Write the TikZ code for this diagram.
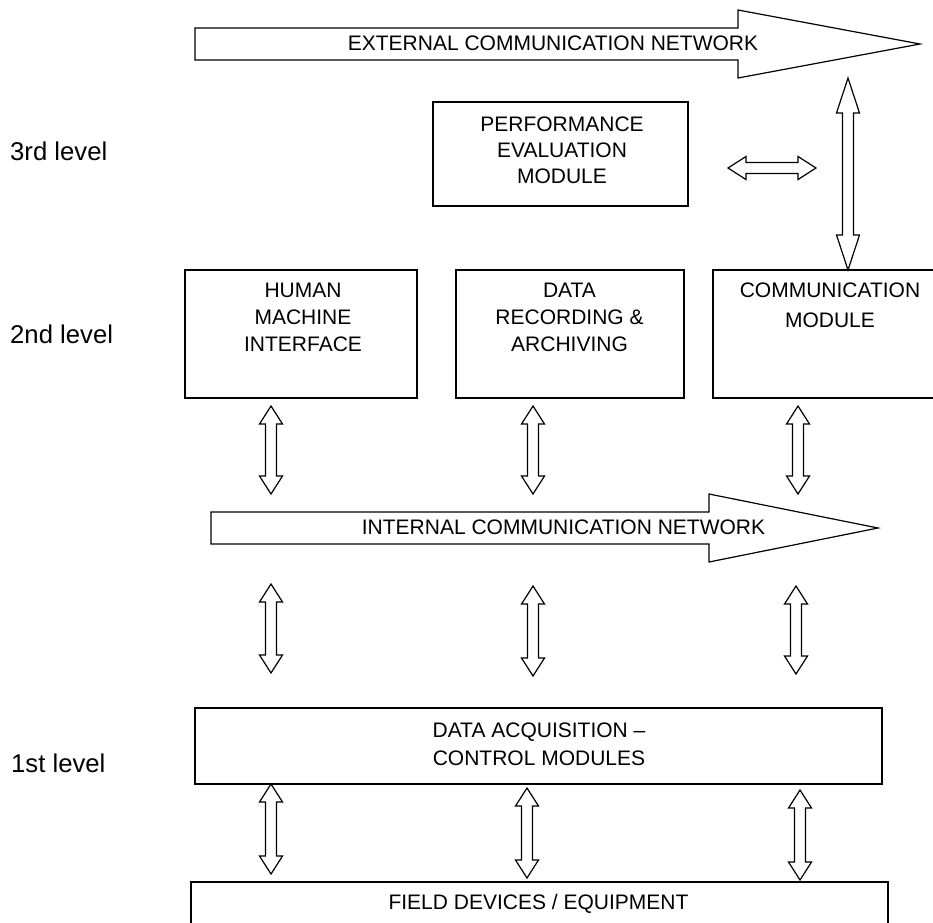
\documentclass[tikz,border=0pt]{standalone}
\usepackage{fontspec}
\setmainfont{Liberation Sans}
\usetikzlibrary{calc}
\tikzset{
  x=1pt, y=-1pt,
  fat/.style={draw=black, line width=1.2pt, fill=white, line join=miter},
  box/.style={draw=black, line width=1.2pt, fill=white, inner sep=0pt, rectangle},
  txt/.style={inner sep=0pt, font=\fontsize{21}{27}\selectfont, align=center},
  lvl/.style={inner sep=0pt, font=\fontsize{25.7}{30}\selectfont, anchor=base west},
}
% vertical double arrow: top coordinate, bottom coordinate, head length
\newcommand{\vdar}[3]{%
 \draw[fat] (#1) -- ($(#1)+(11.5,#3)$) -- ($(#1)+(5.5,#3)$) -- ($(#2)+(5.5,-#3)$) -- ($(#2)+(11.5,-#3)$) -- (#2) -- ($(#2)+(-11.5,-#3)$) -- ($(#2)+(-5.5,-#3)$) -- ($(#1)+(-5.5,#3)$) -- ($(#1)+(-11.5,#3)$) -- cycle;}
% horizontal double arrow: left coordinate, right coordinate, head length
\newcommand{\hdar}[3]{%
 \draw[fat] (#1) -- ($(#1)+(#3,-11.5)$) -- ($(#1)+(#3,-5.5)$) -- ($(#2)+(-#3,-5.5)$) -- ($(#2)+(-#3,-11.5)$) -- (#2) -- ($(#2)+(-#3,11.5)$) -- ($(#2)+(-#3,5.5)$) -- ($(#1)+(#3,5.5)$) -- ($(#1)+(#3,11.5)$) -- cycle;}
\begin{document}
\begin{tikzpicture}
\useasboundingbox (0,0) rectangle (933,922);
\clip (0,0) rectangle (933,922);
\fill[white] (0,0) rectangle (933,922);

% level labels
\node[lvl] (l3) at (10,160) {3rd level};
\node[lvl] (l2) at (10,343) {2nd level};
\node[lvl] (l1) at (11,772) {1st level};

% external network arrow
\draw[fat] (195,28) -- (738,28) -- (738,10) -- (920,44) -- (738,78) -- (738,60) -- (195,60) -- cycle;
\node[txt, anchor=base] (ext) at (553,50) {EXTERNAL COMMUNICATION NETWORK};

% performance evaluation module
\node[box, minimum width=255, minimum height=104] (perf) at (560.5,154) {};
\node[txt, anchor=north, font=\fontsize{21}{26}\selectfont] (perft) at (562,117) {PERFORMANCE\\EVALUATION\\MODULE};

% level 2 boxes
\node[box, minimum width=232, minimum height=128] (hmi) at (301,334) {};
\node[txt, anchor=north] (hmit) at (303,283) {HUMAN\\MACHINE\\INTERFACE};
\node[box, minimum width=228, minimum height=128] (data) at (570,334) {};
\node[txt, anchor=north] (datat) at (569.5,283) {DATA\\RECORDING \&\\ARCHIVING};
\node[box, minimum width=227, minimum height=128] (comm) at (826.5,334) {};
\node[txt, anchor=north, font=\fontsize{21}{30}\selectfont] (commt) at (830,283) {COMMUNICATION\\MODULE};

% internal network arrow
\draw[fat] (211,512) -- (709,512) -- (709,494) -- (878,528) -- (709,562) -- (709,544) -- (211,544) -- cycle;
\node[txt, anchor=base] (int) at (563.5,534) {INTERNAL COMMUNICATION NETWORK};

% level 1 boxes
\node[box, minimum width=687, minimum height=76] (daq) at (538.5,746) {};
\node[txt, anchor=north, font=\fontsize{21}{28}\selectfont] (daqt) at (539,723) {DATA ACQUISITION –\\CONTROL MODULES};
\node[box, minimum width=697, minimum height=53] (field) at (539.5,908.5) {};
\node[txt, anchor=base] (fieldt) at (538.5,909) {FIELD DEVICES / EQUIPMENT};

% connector end points
\coordinate (pe1) at (728,168); \coordinate (pe2) at (816,168);
\coordinate (ec1) at (848,78);  \coordinate (ec2) at (848,270);
\coordinate (a1t) at (271,406); \coordinate (a1b) at (271,494);
\coordinate (a2t) at (533,406); \coordinate (a2b) at (533,494);
\coordinate (a3t) at (798,406); \coordinate (a3b) at (798,494);
\coordinate (b1t) at (271,584); \coordinate (b1b) at (271,673);
\coordinate (b2t) at (533,586); \coordinate (b2b) at (533,676);
\coordinate (b3t) at (796,586); \coordinate (b3b) at (796,674);
\coordinate (c1t) at (271,784); \coordinate (c1b) at (271,874);
\coordinate (c2t) at (527,788); \coordinate (c2b) at (527,878);
\coordinate (c3t) at (800,790); \coordinate (c3b) at (800,880);

\hdar{pe1}{pe2}{18}
\vdar{ec1}{ec2}{35}
\vdar{a1t}{a1b}{18}
\vdar{a2t}{a2b}{18}
\vdar{a3t}{a3b}{18}
\vdar{b1t}{b1b}{18}
\vdar{b2t}{b2b}{18}
\vdar{b3t}{b3b}{18}
\vdar{c1t}{c1b}{18}
\vdar{c2t}{c2b}{18}
\vdar{c3t}{c3b}{18}
\end{tikzpicture}
\end{document}
